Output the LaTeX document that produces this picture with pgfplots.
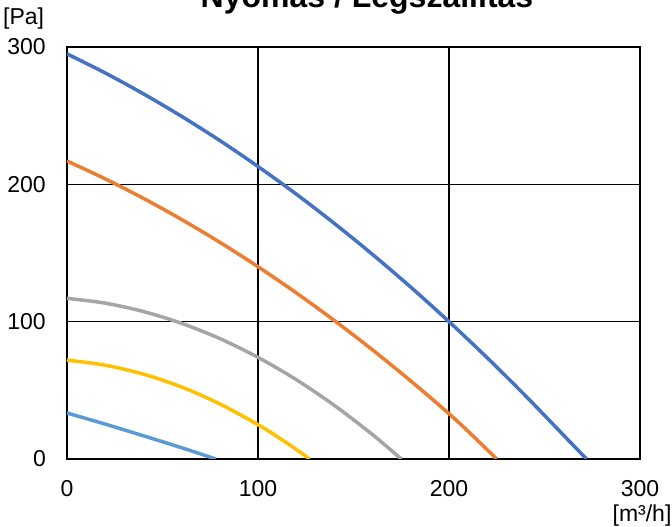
\documentclass[border=0pt]{standalone}
\usepackage{pgfplots}
\pgfplotsset{compat=1.18}
\usepackage{fontspec}
\setmainfont{Liberation Sans}
\definecolor{cA}{HTML}{4472C4}
\definecolor{cB}{HTML}{ED7D31}
\definecolor{cC}{HTML}{A5A5A5}
\definecolor{cD}{HTML}{FFC000}
\definecolor{cE}{HTML}{5B9BD5}
\begin{document}
\fontsize{23}{27}\selectfont
\begin{tikzpicture}
\begin{axis}[
  at={(0pt,0pt)}, anchor=south west,
  scale only axis, width=573pt, height=412pt,
  xmin=0, xmax=300, ymin=0, ymax=300,
  xtick={0,100,200,300}, ytick={0,100,200,300},
  grid=major,
  major grid style={black, line width=1.6pt},
  axis line style={black, line width=1.7pt},
  major tick length=0pt,
  tick label style={font=\fontsize{23}{27}\selectfont},
  /pgf/number format/assume math mode=true,
  yticklabel style={inner sep=0pt, xshift=-21pt},
  xticklabel style={inner sep=0pt, yshift=-21pt},
  every axis plot/.append style={line width=3.5pt, line join=round, smooth, tension=0.5, no marks},
]
\addplot[cA] coordinates {(0,295) (20,281.1) (40,265.9) (60,249.5) (80,231.9) (100,213) (120,192.9) (140,171.5) (160,148.9) (180,125.1) (200,100) (220,73.7) (240,46.1) (260,17.3) (272,0)};
\addplot[cB] coordinates {(0,217) (20,204) (40,189.8) (60,174.4) (80,157.8) (100,140) (120,121) (140,100.8) (160,79.4) (180,56.8) (200,33) (212,17.5) (225,0)};
\addplot[cC] coordinates {(0,117) (20,113.5) (40,107.4) (60,98.8) (80,87.7) (100,74) (120,57.8) (140,39) (160,17.7) (175,0)};
\addplot[cD] coordinates {(0,72) (20,68.3) (40,61.8) (60,52.4) (80,40.1) (100,25) (110,16.4) (120,7) (127,0)};
\addplot[cE] coordinates {(0,33.5) (20,25.4) (40,16.9) (60,8.2) (78,0)};
\end{axis}
\node[anchor=base west, inner sep=0pt, font=\fontsize{23}{27}\selectfont] at (-64pt,434pt) {[Pa]};
\node[anchor=base, inner sep=0pt, font=\fontsize{23}{27}\selectfont] at (575pt,-63pt) {[m³/h]};
\node[anchor=base, inner sep=0pt, font=\bfseries\fontsize{32}{38}\selectfont] at (300pt,451pt) {Nyomás / Légszállítás};
\pgfresetboundingbox
\useasboundingbox (-67pt,-68pt) rectangle (605pt,459pt);
\end{tikzpicture}
\end{document}
